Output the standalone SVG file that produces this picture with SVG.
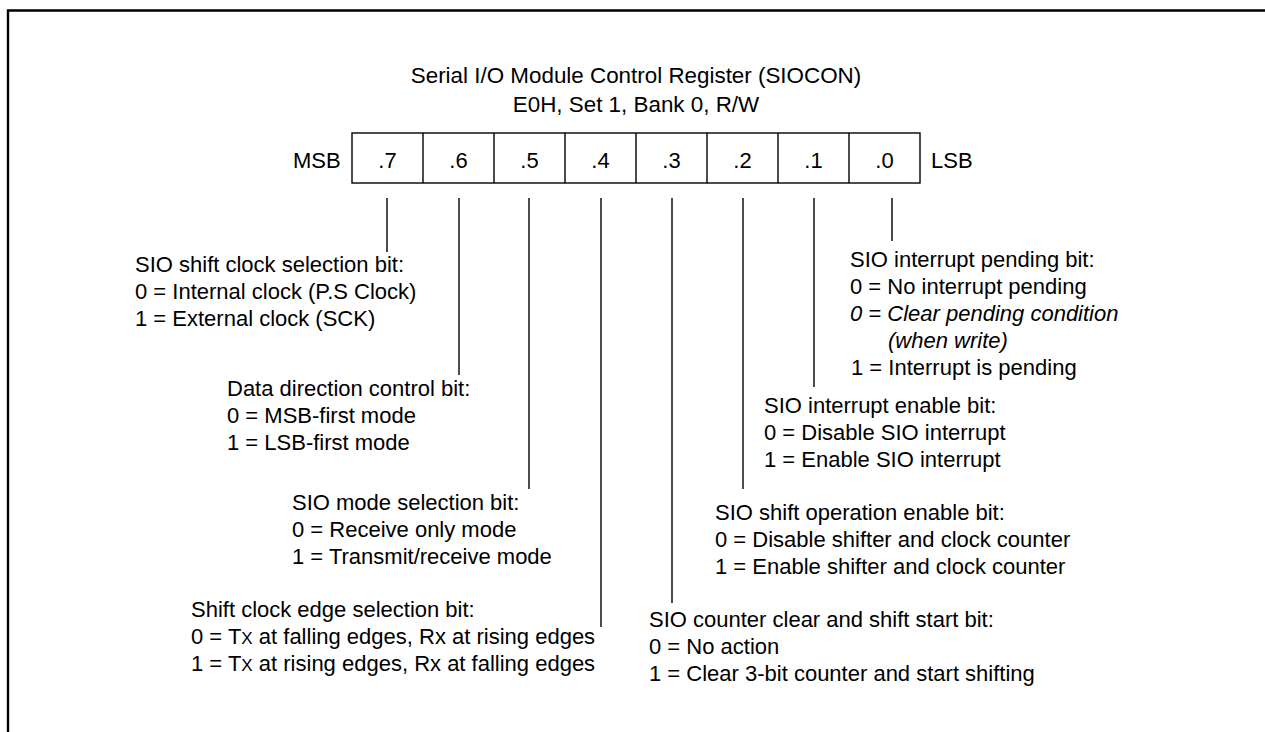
<svg xmlns="http://www.w3.org/2000/svg" width="1265" height="732" viewBox="0 0 1265 732">
<style>
text{font-family:"Liberation Sans",Arial,sans-serif;font-size:22px;fill:#000}
.c{text-anchor:middle}
.i{font-style:italic}
.ln{stroke:#000;stroke-width:1.4;fill:none}
.sm{font-size:17px}
</style>
<rect x="0" y="0" width="1265" height="732" fill="#fff"/>
<path d="M8,732 V10.5 H1265" fill="none" stroke="#000" stroke-width="2.4"/>
<g id="title">
<text class="c" x="636" y="83" style="font-size:22.4px">Serial I/O Module Control Register (SIOCON)</text>
<text class="c" x="636" y="112" style="font-size:22.4px">E0H, Set 1, Bank 0, R/W</text>
</g>
<g id="register">
<rect x="352" y="133" width="568" height="50" class="ln"/>
<path class="ln" d="M423,133V183M494,133V183M565,133V183M636,133V183M707,133V183M778,133V183M849,133V183"/>
<text x="293" y="168">MSB</text>
<text class="c" x="387.5" y="168">.7</text>
<text class="c" x="458.5" y="168">.6</text>
<text class="c" x="529.5" y="168">.5</text>
<text class="c" x="600.5" y="168">.4</text>
<text class="c" x="671.5" y="168">.3</text>
<text class="c" x="742.5" y="168">.2</text>
<text class="c" x="813.5" y="168">.1</text>
<text class="c" x="884.5" y="168">.0</text>
<text x="931" y="168">LSB</text>
</g>
<g id="connectors">
<path class="ln" d="M387,198V252M459,198V375M529,198V489M601,198V627M672,198V603M743,198V489M814,198V387M892,198V241"/>
</g>
<g id="bit7">
<text x="135" y="272">SIO shift clock selection bit:</text>
<text x="135" y="299">0 = Internal clock (P.S Clock)</text>
<text x="135" y="326">1 = External clock (SCK)</text>
</g>
<g id="bit6">
<text x="227" y="396">Data direction control bit:</text>
<text x="227" y="423">0 = MSB-first mode</text>
<text x="227" y="450">1 = LSB-first mode</text>
</g>
<g id="bit5">
<text x="292" y="510">SIO mode selection bit:</text>
<text x="292" y="537">0 = Receive only mode</text>
<text x="292" y="564">1 = Transmit/receive mode</text>
</g>
<g id="bit4">
<text x="191" y="617">Shift clock edge selection bit:</text>
<text x="191" y="644">0 = T<tspan class="sm">X</tspan> at falling edges, Rx at rising edges</text>
<text x="191" y="671">1 = T<tspan class="sm">X</tspan> at rising edges, Rx at falling edges</text>
</g>
<g id="bit3">
<text x="649" y="627">SIO counter clear and shift start bit:</text>
<text x="649" y="654">0 = No action</text>
<text x="649" y="681">1 = Clear 3-bit counter and start shifting</text>
</g>
<g id="bit2">
<text x="715" y="520">SIO shift operation enable bit:</text>
<text x="715" y="547">0 = Disable shifter and clock counter</text>
<text x="715" y="574">1 = Enable shifter and clock counter</text>
</g>
<g id="bit1">
<text x="764" y="413">SIO interrupt enable bit:</text>
<text x="764" y="440">0 = Disable SIO interrupt</text>
<text x="764" y="467">1 = Enable SIO interrupt</text>
</g>
<g id="bit0">
<text x="850" y="267">SIO interrupt pending bit:</text>
<text x="850" y="294">0 = No interrupt pending</text>
<text class="i" x="850" y="321">0 = Clear pending condition</text>
<text class="i" x="888" y="348">(when write)</text>
<text x="851" y="375">1 = Interrupt is pending</text>
</g>
</svg>
